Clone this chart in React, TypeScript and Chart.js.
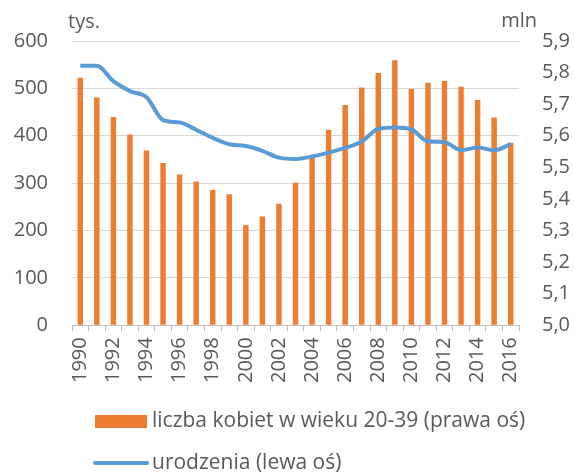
import React, { useEffect, useRef } from "react";
import { Chart, registerables } from "chart.js";

Chart.register(...registerables);

const years = [
  "1990", "1991", "1992", "1993", "1994", "1995", "1996", "1997", "1998", "1999",
  "2000", "2001", "2002", "2003", "2004", "2005", "2006", "2007", "2008", "2009",
  "2010", "2011", "2012", "2013", "2014", "2015", "2016",
];

// liczba kobiet w wieku 20-39, mln (prawa oś)
const women = [
  5.784, 5.721, 5.659, 5.604, 5.553, 5.514, 5.477, 5.455, 5.428, 5.415,
  5.317, 5.344, 5.385, 5.451, 5.530, 5.619, 5.697, 5.753, 5.799, 5.839,
  5.748, 5.768, 5.773, 5.755, 5.713, 5.658, 5.578,
];

// urodzenia, tys. (lewa oś)
const births = [
  547.7, 547.7, 515.2, 494.3, 481.3, 433.1, 428.2, 412.6, 395.6, 382.0,
  378.3, 368.2, 353.8, 351.1, 356.1, 364.4, 374.2, 387.9, 414.5, 417.6,
  413.3, 388.4, 386.3, 369.6, 375.2, 369.3, 382.3,
];

const leftTicks = { min: 0, max: 600, step: 100 };
const rightTicks = { min: 5.0, max: 5.9, step: 0.1 };

const womenLabel = "liczba kobiet w wieku 20-39 (prawa oś)";
const birthsLabel = "urodzenia (lewa oś)";
const leftUnit = "tys.";
const rightUnit = "mln";

const ORANGE = "#ed7d31";
const BLUE = "#5b9bd5";
const TEXT = "#595959";
const FONT = "'Open Sans', sans-serif";

const extrasPlugin = {
  id: "extras",
  afterDraw(chart: any) {
    const ctx = chart.ctx as CanvasRenderingContext2D;
    const area = chart.chartArea;
    ctx.save();
    ctx.fillStyle = TEXT;
    ctx.font = `20px ${FONT}`;
    ctx.textBaseline = "alphabetic";
    ctx.textAlign = "left";
    ctx.fillText(leftUnit, area.left - 4, 28);
    ctx.textAlign = "right";
    ctx.fillText(rightUnit, area.right + 18, 27);

    // legend
    ctx.font = `21px ${FONT}`;
    ctx.textAlign = "left";
    ctx.textBaseline = "middle";
    ctx.fillStyle = ORANGE;
    ctx.fillRect(95, 415, 52, 13);
    ctx.fillStyle = TEXT;
    ctx.fillText(womenLabel, 152, 421);

    ctx.strokeStyle = BLUE;
    ctx.lineWidth = 4;
    ctx.lineCap = "round";
    ctx.beginPath();
    ctx.moveTo(95, 463);
    ctx.lineTo(147, 463);
    ctx.stroke();
    ctx.fillStyle = TEXT;
    ctx.fillText(birthsLabel, 152, 463);
    ctx.restore();
  },
};

export default function App() {
  const ref = useRef<HTMLCanvasElement | null>(null);

  useEffect(() => {
    document.body.style.margin = "0";
    if (!ref.current) return;
    const chart = new Chart(ref.current, {
      type: "bar",
      data: {
        labels: years,
        datasets: [
          {
            type: "line",
            label: birthsLabel,
            data: births,
            yAxisID: "y",
            borderColor: BLUE,
            backgroundColor: BLUE,
            borderWidth: 4,
            pointRadius: 0,
            cubicInterpolationMode: "monotone",
            order: 0,
          } as any,
          {
            type: "bar",
            label: womenLabel,
            data: women,
            yAxisID: "y1",
            backgroundColor: ORANGE,
            barPercentage: 0.33,
            categoryPercentage: 1.0,
            order: 1,
            base: rightTicks.min,
          } as any,
        ],
      },
      options: {
        animation: false,
        responsive: false,
        maintainAspectRatio: false,
        layout: { padding: { left: 13, right: 3, top: 41, bottom: 85 } },
        plugins: {
          legend: { display: false },
          tooltip: { enabled: false },
        },
        scales: {
          x: {
            grid: {
              display: true,
              drawOnChartArea: false,
              tickLength: 6,
              color: "#bfbfbf",
              offset: true,
            },
            border: { color: "#bfbfbf" },
            ticks: {
              autoSkip: false,
              maxRotation: 90,
              minRotation: 90,
              padding: 6,
              color: TEXT,
              font: { size: 20, family: FONT },
              callback: (_v: any, i: number) => (i % 2 === 0 ? years[i] : ""),
            },
          },
          y: {
            position: "left",
            min: leftTicks.min,
            max: leftTicks.max,
            grid: { color: "#d9d9d9", drawTicks: false },
            border: { display: false },
            ticks: {
              stepSize: leftTicks.step,
              padding: 24,
              color: TEXT,
              font: { size: 20, family: FONT },
            },
            afterFit: (scale: any) => {
              scale.width = 59;
            },
          },
          y1: {
            position: "right",
            min: rightTicks.min,
            max: rightTicks.max,
            grid: { drawOnChartArea: false, drawTicks: false },
            border: { display: false },
            ticks: {
              stepSize: rightTicks.step,
              padding: 23,
              color: TEXT,
              font: { size: 20, family: FONT },
              callback: (v: any) => Number(v).toFixed(1).replace(".", ","),
            },
            afterFit: (scale: any) => {
              scale.width = 52;
            },
          },
        },
      },
      plugins: [extrasPlugin],
    });
    return () => chart.destroy();
  }, []);

  return (
    <div style={{ width: 574, height: 474 }}>
      <canvas ref={ref} width={574} height={474} />
    </div>
  );
}
